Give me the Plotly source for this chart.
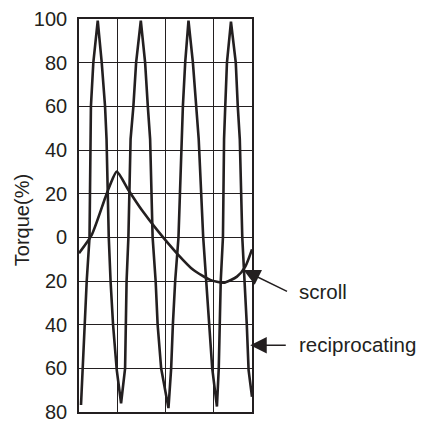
import plotly.graph_objects as go

# x: position within the cycle (0-100, frame width), y: torque (%)
recip_x = [1.16, 2.03, 3.07, 4.46, 6.08, 6.54, 6.89, 8.28, 10.83,
           13.14, 15.06, 15.92, 17.20, 18.24, 19.69, 21.83, 24.32,
           26.64, 27.04, 27.50, 28.55, 29.82, 31.44, 33.01, 35.73,
           38.22, 39.78, 41.11, 42.56, 44.30, 45.45, 47.48, 51.71,
           53.27, 54.26, 55.59, 57.50, 59.35, 60.05, 61.38, 63.29,
           65.84, 67.57, 69.19, 71.80, 73.54, 74.99, 77.01, 79.73,
           80.78, 81.36, 81.93, 83.21, 83.85, 84.54, 85.52, 87.84,
           90.62, 91.78, 92.94, 94.38, 95.83, 96.99, 98.03, 100.0]
recip_y = [-76.8, -60, -40, -20, 0, 45, 60, 80, 99.3,
           80, 60, 45, 0, -20, -40, -60.8, -76.0,
           -60, -40, -20, 0, 45, 60, 80, 99.3,
           80, 60, 45, 0, -20, -40, -60, -78.2,
           -60, -40, -20, 0, 45, 60, 80, 99.3,
           80, 60, 45, 0, -20, -40, -60, -77.5,
           -60, -40, -20, 0, 45, 60, 80, 98.8,
           80, 60, 45, 0, -20, -40, -60.8, -73.0]

scroll_x = [0, 7.35, 15.05, 17.95, 21.83, 28.55, 36.31, 45.92, 56.57,
            66.18, 75.85, 83.55, 91.31, 96.12, 100.0]
scroll_y = [-7.3, 1.1, 17.9, 24.0, 30.1, 21.7, 12.5, 2.6, -7.3,
            -15.0, -19.5, -20.8, -18.0, -13.4, -5.5]

y_ticks = [100, 80, 60, 40, 20, 0, -20, -40, -60, -80]
y_tick_text = [str(abs(v)) for v in y_ticks]
x_grid = [22.5, 50, 77.5]

INK = "#231f20"
FONT = "Liberation Sans, Arial, Helvetica, sans-serif"

fig = go.Figure()
fig.add_trace(go.Scatter(x=recip_x, y=recip_y, mode="lines",
                         line=dict(color=INK, width=2.6), name="reciprocating",
                         hoverinfo="skip"))
fig.add_trace(go.Scatter(x=scroll_x, y=scroll_y, mode="lines",
                         line=dict(color=INK, width=2.6, shape="spline", smoothing=0.6),
                         name="scroll", hoverinfo="skip"))

fig.update_layout(
    width=421, height=423,
    margin=dict(l=79, r=169, t=19, b=11, autoexpand=False),
    paper_bgcolor="white", plot_bgcolor="white",
    showlegend=False,
    font=dict(family=FONT, size=20, color=INK),
    xaxis=dict(range=[0, 100], tickvals=x_grid, showticklabels=False,
               showgrid=True, gridcolor=INK, gridwidth=1.4, zeroline=False,
               showline=True, linecolor=INK, linewidth=1.6, mirror=True,
               ticks="", automargin=False),
    yaxis=dict(range=[-80, 100], tickvals=y_ticks, ticktext=y_tick_text,
               showgrid=True, gridcolor=INK, gridwidth=1.4, zeroline=False,
               showline=True, linecolor=INK, linewidth=1.6, mirror=True,
               ticks="outside", ticklen=6, tickcolor="rgba(0,0,0,0)",
               tickfont=dict(family=FONT, size=20, color=INK), automargin=False),
)

# y-axis title (placed as rotated text to match the reference position)
fig.add_annotation(x=-0.332, y=0.487, xref="paper", yref="paper", text="Torque(%)",
                   textangle=-90, showarrow=False, xanchor="center", yanchor="middle",
                   font=dict(family=FONT, size=20, color=INK))

# labels
fig.add_annotation(x=1.261, y=0.3072, xref="paper", yref="paper", text="scroll",
                   showarrow=False, xanchor="left", yanchor="middle",
                   font=dict(family=FONT, size=20.5, color=INK))
fig.add_annotation(x=1.261, y=0.1711, xref="paper", yref="paper", text="reciprocating",
                   showarrow=False, xanchor="left", yanchor="middle",
                   font=dict(family=FONT, size=20.5, color=INK))
# arrows
fig.add_annotation(x=95.1, y=-15.0, xref="x", yref="y", text="",
                   showarrow=True, ax=45, ay=22, axref="pixel", ayref="pixel",
                   arrowhead=2, arrowsize=2.2, arrowwidth=1.5, arrowcolor=INK,
                   standoff=0)
fig.add_annotation(x=99.0, y=-49.4, xref="x", yref="y", text="",
                   showarrow=True, ax=37, ay=0, axref="pixel", ayref="pixel",
                   arrowhead=2, arrowsize=2.2, arrowwidth=1.5, arrowcolor=INK,
                   standoff=0)

tight = (
    "var h=document.documentElement,b=document.body;"
    "h.style.margin='0';h.style.padding='0';h.style.overflow='hidden';h.style.height='423px';"
    "b.style.margin='0';b.style.padding='0';b.style.overflow='hidden';b.style.height='423px';"
)
fig.write_html("out.html", config={"displayModeBar": False}, post_script=tight)
